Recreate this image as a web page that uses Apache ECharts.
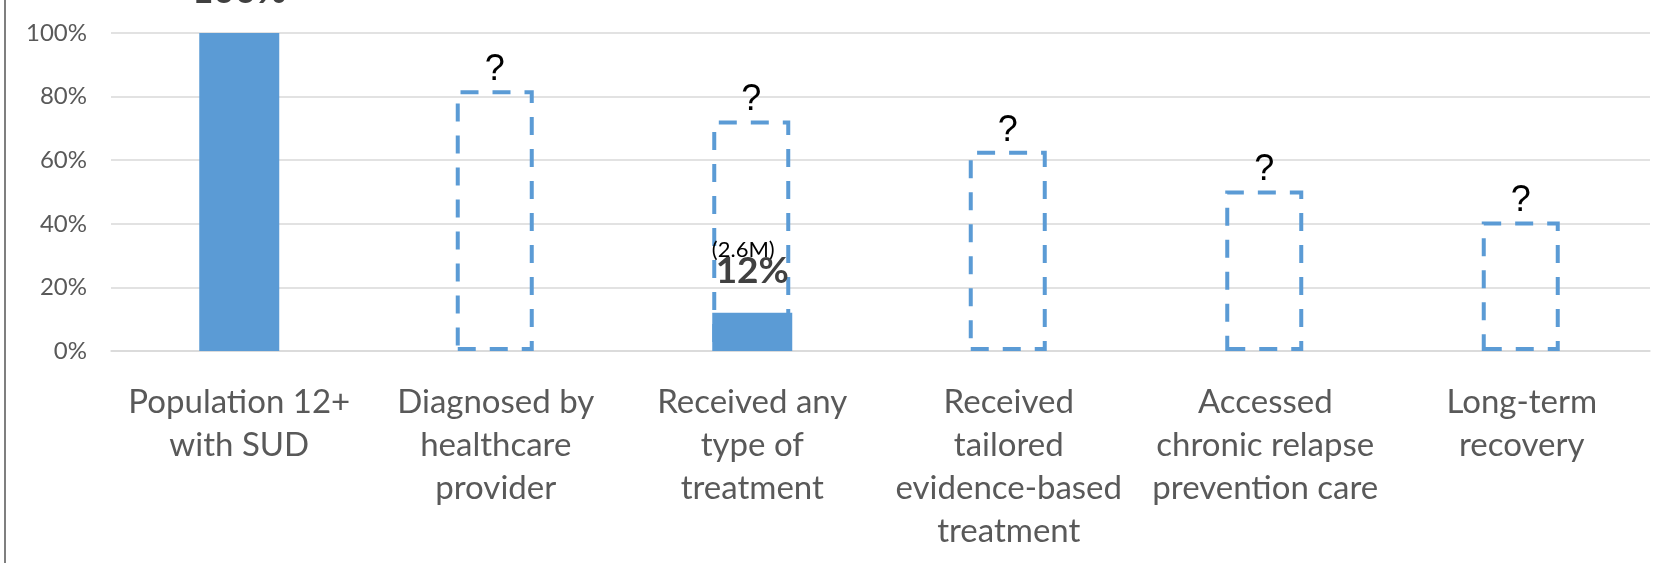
<!DOCTYPE html>
<html>
<head>
<meta charset="utf-8">
<script src="https://cdn.jsdelivr.net/npm/echarts@6/dist/echarts.min.js"></script>
<style>
  html, body { margin: 0; padding: 0; background: #fff; }
  #chart { width: 1671px; height: 563px; }
  .edge { position: absolute; left: 4px; top: 0; width: 2px; height: 563px; background: #7f7f7f; }
</style>
</head>
<body>
<div id="chart"></div>
<div class="edge"></div>
<script>
const categories = [
  'Population 12+\nwith SUD',
  'Diagnosed by\nhealthcare\nprovider',
  'Received any\ntype of\ntreatment',
  'Received\ntailored\nevidence-based\ntreatment',
  'Accessed\nchronic relapse\nprevention care',
  'Long-term\nrecovery'
]
// known shares (filled bars)
const knownValues = [100, null, 12, null, null, null]
const knownCounts = ['', '', '(2.6M)', '', '', '']
// unknown, estimated shares (dashed outlines)
const unknownValues = [null, 82, 72.5, 63, 50.5, 40.7]

const blue = '#5B9BD5'
const chart = echarts.init(document.getElementById('chart'))

const option = {
  backgroundColor: '#fff',
  animation: false,
  grid: { left: 111, right: 21, top: 33, bottom: 212 },
  xAxis: {
    type: 'category',
    data: categories,
    axisLine: { lineStyle: { color: '#d9d9d9', width: 1.5 } },
    axisTick: { show: false },
    axisLabel: {
      interval: 0,
      margin: 30,
      color: '#595959',
      fontFamily: 'Lato',
      fontSize: 33,
      lineHeight: 43
    }
  },
  yAxis: {
    type: 'value',
    min: 0,
    max: 100,
    interval: 20,
    axisLine: { show: false },
    axisTick: { show: false },
    axisLabel: {
      formatter: '{value}%',
      color: '#595959',
      fontFamily: 'Lato',
      fontSize: 24,
      margin: 24
    },
    splitLine: { lineStyle: { color: '#d9d9d9', width: 1.5 } }
  },
  series: [
    {
      type: 'bar',
      data: unknownValues,
      barWidth: 78,
      barGap: '-100%',
      itemStyle: {
        color: 'rgba(0,0,0,0)',
        borderColor: blue,
        borderWidth: 4,
        borderType: [18, 14]
      },
      label: {
        show: true,
        position: 'top',
        distance: 2,
        formatter: '?',
        color: '#000',
        fontFamily: 'Liberation Sans',
        fontSize: 36
      }
    },
    {
      type: 'bar',
      data: knownValues,
      barWidth: 80,
      z: 3,
      itemStyle: { color: blue },
      label: {
        show: true,
        position: 'top',
        distance: 23,
        formatter: p => (knownCounts[p.dataIndex] ? '{s|' + knownCounts[p.dataIndex] + '}\n' : '') + '{b|' + p.value + '%}',
        rich: {
          s: { fontFamily: 'Lato', fontSize: 22, lineHeight: 6, color: '#000', padding: [0, 18, 0, 0] },
          b: { fontFamily: 'Lato', fontWeight: 'bold', fontSize: 37, lineHeight: 37, color: '#404040' }
        }
      }
    }
  ]
}

chart.setOption(option)
</script>
</body>
</html>
